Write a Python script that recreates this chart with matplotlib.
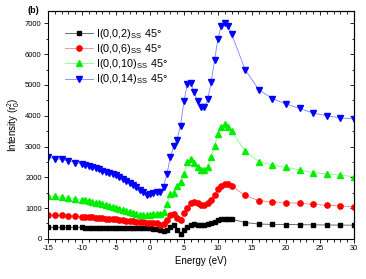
import matplotlib
matplotlib.use("Agg")
import matplotlib.pyplot as plt
from matplotlib.ticker import MultipleLocator

plt.rcParams['font.family'] = ['Liberation Sans', 'DejaVu Sans']
plt.rcParams['axes.unicode_minus'] = False
plt.rcParams['mathtext.default'] = 'regular'

# energy grid (eV)
energy = [-15, -14, -13, -12, -11,
          -10, -9.5, -9, -8.5, -8, -7.5, -7, -6.5, -6, -5.5, -5, -4.5, -4, -3.5, -3,
          -2.5, -2, -1.5, -1, -0.5, 0, 0.5, 1, 1.5, 2, 2.5, 3, 3.5, 4, 4.5, 5, 5.5,
          6, 6.5, 7, 7.5, 8, 8.5, 9, 9.5, 10, 10.5, 11, 11.5, 12,
          14, 16, 18, 20, 22, 24, 26, 28, 30]

i_002 = [370, 370, 370, 370, 370,
         370, 368, 366, 364, 362, 360, 358, 356, 354, 352, 350, 348, 346, 344, 342,
         340, 338, 336, 338, 340, 342, 335, 315, 285, 240, 300, 390, 450, 280, 160, 280, 400,
         460, 470, 465, 450, 450, 480, 510, 560, 600, 630, 640, 645, 640,
         530, 480, 470, 465, 460, 455, 450, 445, 445]

i_006 = [770, 765, 760, 750, 740,
         720, 715, 705, 700, 690, 680, 670, 660, 650, 640, 630, 615, 600, 590, 575,
         565, 555, 545, 535, 525, 520, 510, 500, 450, 480, 610, 770, 800, 690, 610, 830, 990,
         1180, 1200, 1160, 1110, 1100, 1150, 1260, 1430, 1610, 1720, 1770, 1770, 1720,
         1410, 1240, 1200, 1175, 1155, 1120, 1090, 1070, 1045]

i_0010 = [1400, 1380, 1360, 1340, 1310,
          1270, 1250, 1230, 1200, 1180, 1150, 1120, 1100, 1070, 1040, 1000, 970, 940, 910, 870,
          840, 810, 790, 780, 770, 790, 800, 820, 820, 860, 1130, 1450, 1490, 1720, 1860, 2110, 2500,
          2590, 2480, 2320, 2240, 2240, 2350, 2650, 3030, 3400, 3650, 3730, 3650, 3490,
          2860, 2510, 2400, 2320, 2240, 2150, 2110, 2070, 2020]

i_0014 = [2650, 2610, 2580, 2530, 2480,
          2430, 2400, 2370, 2340, 2300, 2260, 2220, 2180, 2140, 2100, 2070, 2020, 1960, 1890, 1820,
          1750, 1680, 1600, 1510, 1420, 1450, 1500, 1510, 1520, 1700, 2110, 2650, 3020, 3220, 3680, 4470, 5040,
          5050, 4770, 4470, 4270, 4270, 4540, 5090, 5800, 6500, 6930, 7020, 6930, 6660,
          5500, 4850, 4560, 4380, 4240, 4090, 4000, 3930, 3900]

labels = ['I(0,0,2)$_{SS}$ 45°', 'I(0,0,6)$_{SS}$ 45°',
          'I(0,0,10)$_{SS}$ 45°', 'I(0,0,14)$_{SS}$ 45°']

fig = plt.figure(figsize=(3.66, 2.79), dpi=100)
ax = fig.add_axes([0.131, 0.144, 0.836, 0.816])

series = [i_002, i_006, i_0010, i_0014]
marker_col = ['black', 'red', '#00ee00', 'blue']
line_col = ['#555555', '#ff8080', '#80ff80', '#8080ff']
markers = ['s', 'o', '^', 'v']
msizes = [3.3, 3.8, 4.2, 4.2]

for ys, mc, lc, m, ms, lab in zip(series, marker_col, line_col, markers, msizes, labels):
    ax.plot(energy, ys, color=lc, lw=0.6, marker=m, ms=ms,
            mfc=mc, mec=mc, label=lab)

ax.set_xlim(-15, 30)
ax.set_ylim(0, 7400)
ax.xaxis.set_major_locator(MultipleLocator(5))
ax.xaxis.set_minor_locator(MultipleLocator(1))
ax.yaxis.set_major_locator(MultipleLocator(1000))
ax.yaxis.set_minor_locator(MultipleLocator(500))
ax.tick_params(which='both', direction='out', labelsize=5.4, width=0.6, pad=1.5)
ax.tick_params(which='major', length=3)
ax.tick_params(which='minor', length=1.8)
for s in ax.spines.values():
    s.set_linewidth(0.8)

# mirrored ticks pointing inward on top/right
top = ax.secondary_xaxis('top')
top.xaxis.set_major_locator(MultipleLocator(5))
top.xaxis.set_minor_locator(MultipleLocator(1))
top.tick_params(which='both', direction='in', labeltop=False, width=0.6)
top.tick_params(which='major', length=3)
top.tick_params(which='minor', length=1.8)
right = ax.secondary_yaxis('right')
right.yaxis.set_major_locator(MultipleLocator(1000))
right.yaxis.set_minor_locator(MultipleLocator(500))
right.tick_params(which='both', direction='in', labelright=False, width=0.6)
right.tick_params(which='major', length=3)
right.tick_params(which='minor', length=1.8)

ax.set_xlabel('Energy (eV)', fontsize=7, labelpad=3)
ax.set_ylabel('Intensity (r$_0^2$)', fontsize=7, labelpad=2)

ax.legend(loc='upper left', frameon=False, fontsize=7.8, handlelength=2.6,
          handletextpad=0.3, labelspacing=0.12, borderaxespad=0.6,
          bbox_to_anchor=(0.02, 0.98))

fig.text(0.075, 0.952, '(b)', fontsize=6.5, fontweight='bold')

fig.savefig('out.png', dpi=100)
